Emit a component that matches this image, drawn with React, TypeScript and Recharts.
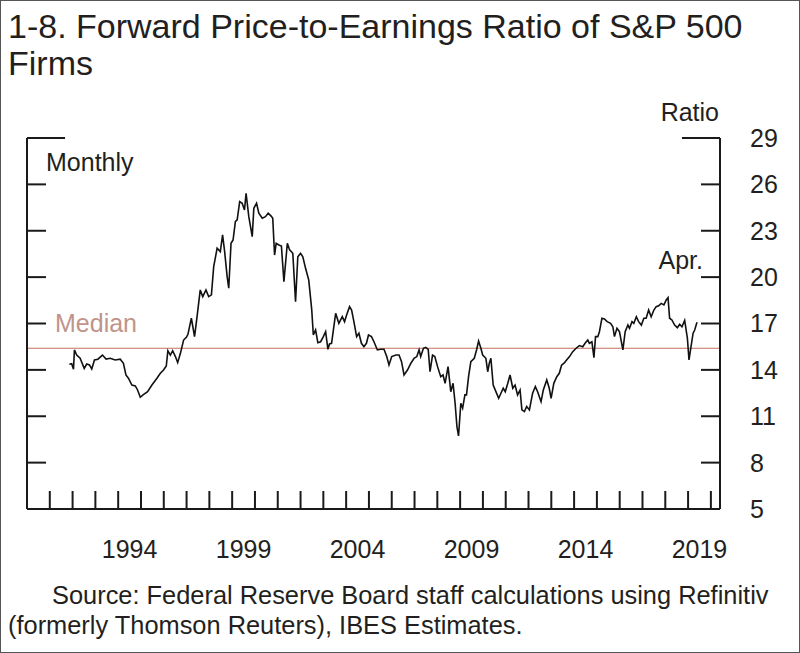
import React from 'react';
import { LineChart, Line, XAxis, YAxis, ReferenceLine } from 'recharts';

// decimal years (monthly-ish readings) and forward P/E ratio
const dates = [
  1991.86, 1991.96, 1992.04, 1992.08, 1992.18, 1992.33, 1992.51, 1992.62, 1992.74, 1992.84, 1992.96,
  1993.11, 1993.31, 1993.47, 1993.65, 1993.87, 1994.09, 1994.23, 1994.34, 1994.45, 1994.6, 1994.75,
  1994.85, 1994.97, 1995.09, 1995.29, 1995.48, 1995.7, 1995.85, 1995.99, 1996.11, 1996.18, 1996.29,
  1996.39, 1996.51, 1996.61, 1996.73, 1996.87, 1996.99, 1997.06, 1997.21, 1997.35, 1997.46, 1997.6,
  1997.71, 1997.85, 1997.97, 1998.09, 1998.19, 1998.34, 1998.48, 1998.58, 1998.67, 1998.78, 1998.85,
  1998.95, 1999.04, 1999.14, 1999.22, 1999.33, 1999.44, 1999.54, 1999.61, 1999.73, 1999.88, 1999.95,
  2000.07, 2000.17, 2000.32, 2000.46, 2000.58, 2000.71, 2000.78, 2000.86, 2000.93, 2001.05, 2001.16,
  2001.27, 2001.42, 2001.52, 2001.66, 2001.78, 2001.88, 2002.0, 2002.1, 2002.22, 2002.36, 2002.49,
  2002.56, 2002.66, 2002.76, 2002.88, 2003.0, 2003.1, 2003.2, 2003.27, 2003.36, 2003.54, 2003.68,
  2003.83, 2003.93, 2004.02, 2004.15, 2004.24, 2004.34, 2004.46, 2004.56, 2004.67, 2004.78, 2004.89,
  2004.98, 2005.11, 2005.22, 2005.37, 2005.52, 2005.66, 2005.78, 2005.88, 2006.0, 2006.18, 2006.32,
  2006.43, 2006.54, 2006.69, 2006.84, 2006.98, 2007.1, 2007.2, 2007.27, 2007.39, 2007.49, 2007.6,
  2007.68, 2007.79, 2007.89, 2008.01, 2008.15, 2008.25, 2008.34, 2008.47, 2008.59, 2008.69, 2008.78,
  2008.86, 2008.93, 2009.03, 2009.11, 2009.21, 2009.28, 2009.37, 2009.47, 2009.62, 2009.72, 2009.81,
  2009.91, 2009.99, 2010.13, 2010.21, 2010.28, 2010.35, 2010.45, 2010.57, 2010.69, 2010.79, 2010.89,
  2010.98, 2011.09, 2011.19, 2011.31, 2011.41, 2011.52, 2011.63, 2011.71, 2011.82, 2011.92, 2012.04,
  2012.18, 2012.3, 2012.4, 2012.55, 2012.65, 2012.8, 2012.91, 2012.99, 2013.11, 2013.24, 2013.35,
  2013.45, 2013.57, 2013.67, 2013.8, 2013.94, 2014.09, 2014.23, 2014.38, 2014.48, 2014.6, 2014.67,
  2014.78, 2014.87, 2014.94, 2015.04, 2015.11, 2015.22, 2015.33, 2015.45, 2015.6, 2015.7, 2015.77,
  2015.88, 2015.99, 2016.14, 2016.24, 2016.36, 2016.43, 2016.54, 2016.62, 2016.73, 2016.83, 2016.95,
  2017.06, 2017.16, 2017.27, 2017.38, 2017.5, 2017.6, 2017.71, 2017.82, 2017.94, 2018.04, 2018.12,
  2018.19, 2018.29, 2018.41, 2018.53, 2018.63, 2018.73, 2018.85, 2018.97, 2019.04, 2019.14, 2019.22,
  2019.29, 2019.39,
];

const ratios = [
  14.36, 14.4, 14.04, 15.29, 14.96, 14.75, 14.1, 14.38, 14.32, 14.06, 14.64,
  14.69, 14.96, 14.7, 14.75, 14.64, 14.69, 14.43, 13.67, 13.46, 13.02, 12.96,
  12.7, 12.23, 12.38, 12.59, 13.02, 13.46, 13.78, 13.99, 14.25, 15.24, 14.96,
  15.24, 14.86, 14.47, 15.07, 15.93, 16.11, 16.3, 17.34, 16.15, 17.44, 19.17,
  18.74, 19.17, 18.74, 18.85, 20.68, 21.87, 21.65, 22.73, 21.65, 20.03, 19.28,
  22.19, 22.4, 23.59, 23.7, 24.88, 24.78, 24.34, 25.42, 23.91, 22.62, 24.45,
  24.78, 24.13, 23.81, 23.91, 24.13, 23.95, 23.81, 21.43, 22.19, 22.08, 22.01,
  19.71, 22.19, 21.76, 21.54, 18.41, 21.32, 21.54, 21.32, 20.57, 19.81, 17.9,
  16.26, 16.58, 15.76, 15.82, 16.15, 16.47, 15.33, 15.68, 15.72, 17.66, 17.01,
  17.44, 17.12, 17.55, 18.09, 17.87, 17.12, 16.15, 16.37, 15.72, 15.5, 15.72,
  16.26, 16.15, 15.82, 15.29, 15.33, 15.33, 14.86, 14.32, 14.86, 14.96, 14.96,
  14.53, 13.67, 13.99, 14.43, 14.75, 14.86, 15.29, 14.86, 15.4, 15.46, 15.33,
  13.88, 14.96, 14.86, 14.21, 13.56, 13.67, 13.13, 14.21, 12.59, 13.13, 11.84,
  10.33, 9.73, 11.84, 11.52, 12.38, 12.38, 13.56, 14.53, 14.75, 15.29, 15.87,
  15.4, 14.96, 14.75, 13.88, 14.43, 14.75, 13.02, 12.59, 12.16, 12.49, 12.81,
  12.59, 13.13, 13.67, 12.81, 13.02, 12.38, 12.7, 11.41, 11.3, 11.63, 11.41,
  12.49, 12.92, 12.59, 11.94, 12.7, 13.35, 12.81, 12.16, 13.13, 13.56, 13.78,
  14.3, 14.45, 14.64, 14.86, 15.18, 15.4, 15.57, 15.5, 15.72, 15.93, 15.72,
  15.82, 14.79, 16.15, 16.15, 16.47, 17.34, 17.29, 17.12, 17.01, 16.79, 16.15,
  16.69, 16.47, 15.29, 16.47, 16.9, 16.69, 17.12, 17.01, 17.44, 17.12, 16.9,
  17.34, 17.34, 17.87, 17.44, 17.87, 18.09, 18.15, 18.3, 18.2, 18.52, 18.67,
  17.34, 17.23, 16.9, 16.73, 16.95, 16.79, 17.2, 16.04, 14.64, 15.61, 16.37,
  16.58, 17.08,
];

const median = 15.4;
const yearTicks = [
  1991, 1992, 1993, 1994, 1995, 1996, 1997, 1998, 1999, 2000, 2001, 2002, 2003, 2004, 2005,
  2006, 2007, 2008, 2009, 2010, 2011, 2012, 2013, 2014, 2015, 2016, 2017, 2018, 2019, 2020,
];
const yearLabels = [1994, 1999, 2004, 2009, 2014, 2019];
const ratioTicks = [5, 8, 11, 14, 17, 20, 23, 26, 29];

const data = dates.map((d, i) => ({ date: d, ratio: ratios[i] }));

const FONT = '"Liberation Sans", Arial, sans-serif';
const INK = '#231f20';
const AXIS = '#1a1a1a';
const xDomain = [1990, 2020.4];
const yDomain = [5, 29];

// tick marks only, no text
const NoLabel = () => <g />;

export default function App() {
  return (
    <div style={{ position: 'absolute', left: 0, top: 0, width: 800, height: 653, background: '#fff' }}>
      <div style={{ position: 'absolute', left: 0, top: 0 }}>
        <LineChart width={800} height={653} data={data} margin={{ top: 138, right: 0, bottom: 84, left: 27 }}>
          <XAxis
            xAxisId="a-ticks"
            type="number"
            dataKey="date"
            domain={xDomain}
            ticks={yearTicks}
            interval={0}
            mirror
            height={1}
            tickSize={18}
            tick={NoLabel}
            axisLine={{ stroke: AXIS, strokeWidth: 2 }}
            tickLine={{ stroke: AXIS, strokeWidth: 2 }}
          />
          <XAxis
            xAxisId="b-labels"
            type="number"
            dataKey="date"
            domain={xDomain}
            ticks={yearLabels.map((y) => y + 0.5)}
            interval={0}
            height={60}
            tickSize={0}
            tickMargin={31}
            axisLine={false}
            tickLine={false}
            tickFormatter={(v) => String(Math.floor(v))}
            tick={{ fill: INK, fontSize: 25, fontFamily: FONT }}
          />
          <YAxis
            yAxisId="left"
            type="number"
            domain={yDomain}
            ticks={ratioTicks}
            interval={0}
            mirror
            width={1}
            tickSize={19}
            tick={NoLabel}
            axisLine={{ stroke: AXIS, strokeWidth: 2 }}
            tickLine={{ stroke: AXIS, strokeWidth: 2 }}
          />
          <YAxis
            yAxisId="r-ticks"
            orientation="right"
            type="number"
            domain={yDomain}
            ticks={ratioTicks}
            interval={0}
            mirror
            width={1}
            tickSize={19}
            tick={NoLabel}
            axisLine={{ stroke: AXIS, strokeWidth: 2 }}
            tickLine={{ stroke: AXIS, strokeWidth: 2 }}
          />
          <YAxis
            yAxisId="r-labels"
            orientation="right"
            type="number"
            domain={yDomain}
            ticks={ratioTicks}
            interval={0}
            width={80}
            tickSize={0}
            tickMargin={30}
            axisLine={false}
            tickLine={false}
            tick={{ fill: INK, fontSize: 25, fontFamily: FONT }}
          />
          <ReferenceLine
            xAxisId="a-ticks"
            yAxisId="left"
            segment={[{ x: 1990, y: 29 }, { x: 1991.67, y: 29 }]}
            stroke={AXIS}
            strokeWidth={2}
          />
          <ReferenceLine
            xAxisId="a-ticks"
            yAxisId="left"
            segment={[{ x: 2018.73, y: 29 }, { x: 2020.4, y: 29 }]}
            stroke={AXIS}
            strokeWidth={2}
          />
          <ReferenceLine xAxisId="a-ticks" yAxisId="left" y={median} stroke="#c2705e" strokeWidth={1.2} />
          {/* invisible copies so the label-only axes get a domain */}
          <Line
            xAxisId="b-labels"
            yAxisId="r-labels"
            dataKey="ratio"
            stroke="none"
            dot={false}
            activeDot={false}
            legendType="none"
            isAnimationActive={false}
          />
          <Line
            xAxisId="a-ticks"
            yAxisId="r-ticks"
            dataKey="ratio"
            stroke="none"
            dot={false}
            activeDot={false}
            legendType="none"
            isAnimationActive={false}
          />
          <Line
            xAxisId="a-ticks"
            yAxisId="left"
            type="linear"
            dataKey="ratio"
            stroke="#111"
            strokeWidth={1.6}
            dot={false}
            isAnimationActive={false}
          />
        </LineChart>
      </div>
      <svg
        width={800}
        height={653}
        style={{ position: 'absolute', left: 0, top: 0, pointerEvents: 'none' }}
        fontFamily={FONT}
      >
        <rect x={0.5} y={0.5} width={799} height={652} fill="none" stroke="#555" />
        <text x={8} y={37.5} fontSize={34} fill={INK}>1-8. Forward Price-to-Earnings Ratio of S&amp;P 500</text>
        <text x={8} y={75} fontSize={34} fill={INK}>Firms</text>
        <text x={719} y={121} fontSize={25} fill={INK} textAnchor="end">Ratio</text>
        <text x={46} y={171} fontSize={25} fill={INK}>Monthly</text>
        <text x={703} y={269} fontSize={25} fill={INK} textAnchor="end">Apr.</text>
        <text x={55} y={332} fontSize={25} fill="#c0948a">Median</text>
        <text x={52} y={604} fontSize={25.4} fill={INK}>
          Source: Federal Reserve Board staff calculations using Refinitiv
        </text>
        <text x={8} y={634} fontSize={25.4} fill={INK}>(formerly Thomson Reuters), IBES Estimates.</text>
      </svg>
    </div>
  );
}
